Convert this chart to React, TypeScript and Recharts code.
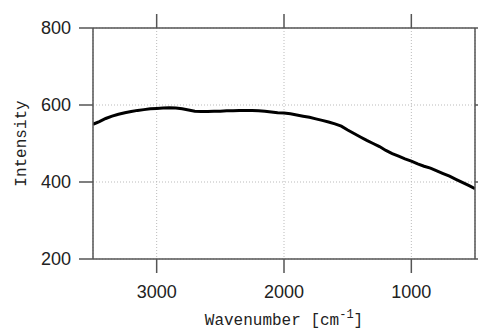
import { CartesianGrid, Line, LineChart, XAxis, YAxis } from 'recharts'

const wavenumbers = [
  3500, 3450, 3400, 3350, 3300, 3250, 3200, 3150, 3100, 3050, 3000, 2950, 2900, 2850, 2800, 2750, 2700,
  2650, 2600, 2550, 2500, 2450, 2400, 2350, 2300, 2250, 2200, 2150, 2100, 2050, 2000, 1950, 1900, 1850,
  1800, 1750, 1700, 1650, 1600, 1550, 1500, 1450, 1400, 1350, 1300, 1250, 1200, 1150, 1100, 1050, 1000,
  950, 900, 850, 800, 750, 700, 650, 600, 550, 500,
]
const intensity = [
  550, 557, 565, 571, 576, 580, 583, 586, 588, 590, 591, 592, 593, 592, 590, 587, 584,
  583, 583, 584, 584, 585, 585, 586, 586, 586, 585, 584, 582, 580, 579, 577, 574, 571,
  568, 564, 560, 556, 551, 545, 535, 526, 517, 508, 500, 492, 482, 474, 467, 460, 454,
  447, 441, 436, 429, 422, 415, 407, 399, 391, 383,
]
const xTicks = [1000, 2000, 3000]
const yTicks = [200, 400, 600, 800]

const data = wavenumbers.map((wn, i) => ({ wn, value: intensity[i] }))

const axisColor = '#555'
const tickFont = { fontSize: 18, fontFamily: 'Liberation Sans, Arial, sans-serif', fill: '#222' }
const titleFont = 'Liberation Mono, DejaVu Sans Mono, monospace'
const noLabel = () => ''

function XTitle({ viewBox }: any) {
  const cx = viewBox.x + viewBox.width / 2
  return (
    <text x={cx} y={325} textAnchor="middle" fontFamily={titleFont} fontSize={16} fill="#222">
      Wavenumber [cm
      <tspan dy={-7} fontSize={12}>-1</tspan>
      <tspan dy={7}>]</tspan>
    </text>
  )
}

function YTitle({ viewBox }: any) {
  const cy = viewBox.y + viewBox.height / 2
  return (
    <text
      x={26}
      y={cy}
      textAnchor="middle"
      fontFamily={titleFont}
      fontSize={16}
      fill="#222"
      transform={`rotate(-90, 26, ${cy})`}
    >
      Intensity
    </text>
  )
}

export default function App() {
  return (
    <div style={{ position: 'fixed', left: 0, top: 0, background: '#fff' }}>
      <LineChart width={478} height={329} data={data} margin={{ top: 27, right: 2, left: 0, bottom: 0 }}>
        <CartesianGrid stroke="#bbb" strokeDasharray="1 2" />
        <XAxis
          dataKey="wn"
          type="number"
          domain={[500, 3500]}
          reversed
          ticks={xTicks}
          tickSize={14}
          tickMargin={12}
          height={70}
          tick={tickFont}
          axisLine={{ stroke: axisColor, strokeWidth: 1.5 }}
          tickLine={{ stroke: axisColor, strokeWidth: 1.5 }}
          allowDataOverflow
          label={<XTitle />}
        />
        <XAxis
          xAxisId="top"
          dataKey="wn"
          type="number"
          orientation="top"
          domain={[500, 3500]}
          reversed
          ticks={xTicks}
          tickSize={14}
          height={1}
          tickFormatter={noLabel}
          axisLine={{ stroke: axisColor, strokeWidth: 1.5 }}
          tickLine={{ stroke: axisColor, strokeWidth: 1.5 }}
          allowDataOverflow
        />
        <YAxis
          type="number"
          domain={[200, 800]}
          ticks={yTicks}
          tickSize={14}
          tickMargin={8}
          width={93}
          tick={tickFont}
          axisLine={{ stroke: axisColor, strokeWidth: 1.5 }}
          tickLine={{ stroke: axisColor, strokeWidth: 1.5 }}
          allowDataOverflow
          label={<YTitle />}
        />
        <YAxis
          yAxisId="right"
          type="number"
          orientation="right"
          domain={[200, 800]}
          ticks={yTicks}
          tickSize={3}
          width={1}
          tickFormatter={noLabel}
          axisLine={{ stroke: axisColor, strokeWidth: 1.5 }}
          tickLine={{ stroke: axisColor, strokeWidth: 1.5 }}
          allowDataOverflow
        />
        <Line
          dataKey="value"
          type="linear"
          stroke="#000"
          strokeWidth={3}
          dot={false}
          isAnimationActive={false}
        />
      </LineChart>
    </div>
  )
}
